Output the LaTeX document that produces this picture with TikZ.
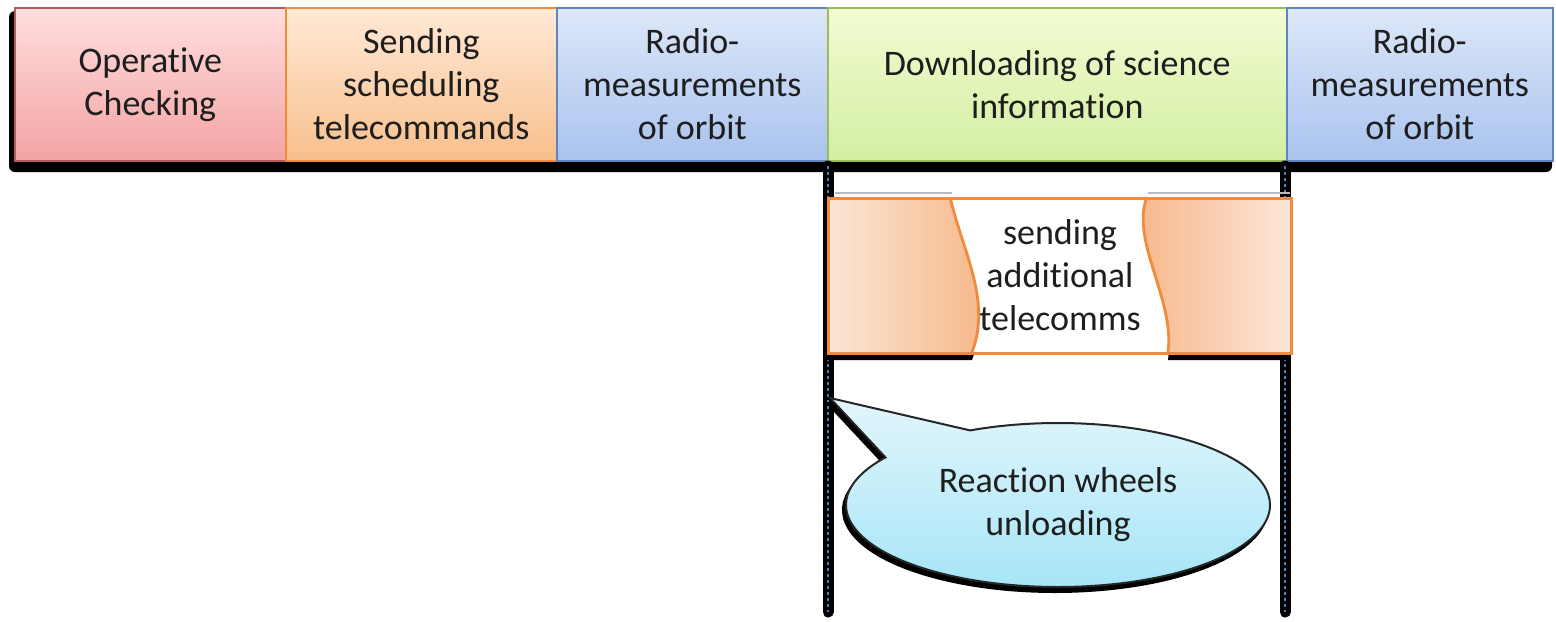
\documentclass[tikz,border=0pt]{standalone}
\usepackage{fontspec}
\setmainfont[Ligatures=NoCommon]{Carlito}
\usetikzlibrary{shapes.callouts,shadows}
\definecolor{txt}{HTML}{1E1E1E}
\definecolor{redT}{HTML}{FFDEDE}
\definecolor{redB}{HTML}{F3A3A3}
\definecolor{redD}{HTML}{B65A55}
\definecolor{orT}{HTML}{FFE9D6}
\definecolor{orB}{HTML}{F8BF8C}
\definecolor{orD}{HTML}{F08A3C}
\definecolor{blT}{HTML}{DDE7F8}
\definecolor{blB}{HTML}{A9C3EE}
\definecolor{blD}{HTML}{5B86C0}
\definecolor{grT}{HTML}{F3FBD3}
\definecolor{grB}{HTML}{D3EFA2}
\definecolor{grD}{HTML}{9CBB5A}
\definecolor{sendL}{HTML}{FCE6D6}
\definecolor{sendD}{HTML}{F6B687}
\definecolor{cyT}{HTML}{E2F6FB}
\definecolor{cyB}{HTML}{A3E4F7}
\definecolor{dashc}{HTML}{4A7FC0}
\begin{document}
\begin{tikzpicture}[x=0.5pt,y=-0.5pt,
  font=\fontsize{18pt}{21.5pt}\selectfont,
  phase/.style={draw, line width=0.8pt, anchor=north west, minimum height=76.5pt,
    inner sep=0pt, align=center, text=txt},
  vline/.style={line width=5.5pt, line cap=round, black},
  vdash/.style={line width=1.4pt, dash pattern=on 1.5pt off 1.5pt, dashc},
  wavepart/.style={line width=1.4pt, draw=orD}
]
\useasboundingbox (0,0) rectangle (1556,621);
% shadow of the top bar
\fill[black, rounded corners=3pt] (9,11) rectangle (1552,172);
% top phases
\node[phase, minimum width=135.5pt, top color=redT, bottom color=redB, draw=redD] (op) at (14,7) {Operative\\Checking};
\node[phase, minimum width=135.5pt, top color=orT, bottom color=orB, draw=orD] (sched) at (285,7) {Sending\\scheduling\\telecommands};
\node[phase, minimum width=135.5pt, top color=blT, bottom color=blB, draw=blD] (rad1) at (556,7) {Radio-\\measurements\\of orbit};
\node[phase, minimum width=229.5pt, top color=grT, bottom color=grB, draw=grD] (down) at (827,7) {Downloading of science\\information};
\node[phase, minimum width=133pt, top color=blT, bottom color=blB, draw=blD] (rad2) at (1286,7) {Radio-\\measurements\\of orbit};
% vertical marker lines
\coordinate (v1a) at (828,166); \coordinate (v1b) at (828,612);
\coordinate (v2a) at (1285,166); \coordinate (v2b) at (1285,612);
\draw[vline] (v1a) -- (v1b); \draw[vdash] (v1a) -- (v1b);
\draw[vline] (v2a) -- (v2b); \draw[vdash] (v2a) -- (v2b);
% sending box: shadows
\draw[gray!55, line width=0.8pt] (835,193) -- (952,193) (1148,193) -- (1290,193);
\begin{scope}[yshift=-4pt]
\fill[black] (827,197) -- (950,197) .. controls (962,250) and (992,300) .. (972,352) -- (827,352) -- cycle;
\fill[black] (1147,197) .. controls (1130,240) and (1175,300) .. (1168,352) -- (1290,352) -- (1290,197) -- cycle;
\end{scope}
% sending box: parts
\fill[white] (827,197) rectangle (1290,352);
\path[left color=sendL, right color=sendD] (827,197) -- (950,197) .. controls (962,250) and (992,300) .. (972,352) -- (827,352) -- cycle;
\path[left color=sendD, right color=sendL] (1147,197) .. controls (1130,240) and (1175,300) .. (1168,352) -- (1290,352) -- (1290,197) -- cycle;
\draw[wavepart] (950,197) .. controls (962,250) and (992,300) .. (972,352);
\draw[wavepart] (1147,197) .. controls (1130,240) and (1175,300) .. (1168,352);
\node[draw=orD, line width=1.4pt, minimum width=231.5pt, minimum height=77.5pt, inner sep=0pt, anchor=north west] (sendbox) at (827,197) {};
\node[align=center, text=txt, inner sep=0pt] (send) at (1060,275) {sending\\additional\\telecomms};
% callout
\coordinate (tip) at (830,398);
\node[ellipse callout, callout absolute pointer={(tip)}, callout pointer arc=30,
  minimum width=212pt, minimum height=82pt, top color=cyT, bottom color=cyB,
  draw=black!85, line width=1pt,
  general shadow={fill=black, draw=black, shadow xshift=-1.5pt, shadow yshift=-2.5pt},
  align=center, text=txt, inner sep=0pt] (rw) at (1058,505) {Reaction wheels\\unloading};
\end{tikzpicture}
\end{document}
